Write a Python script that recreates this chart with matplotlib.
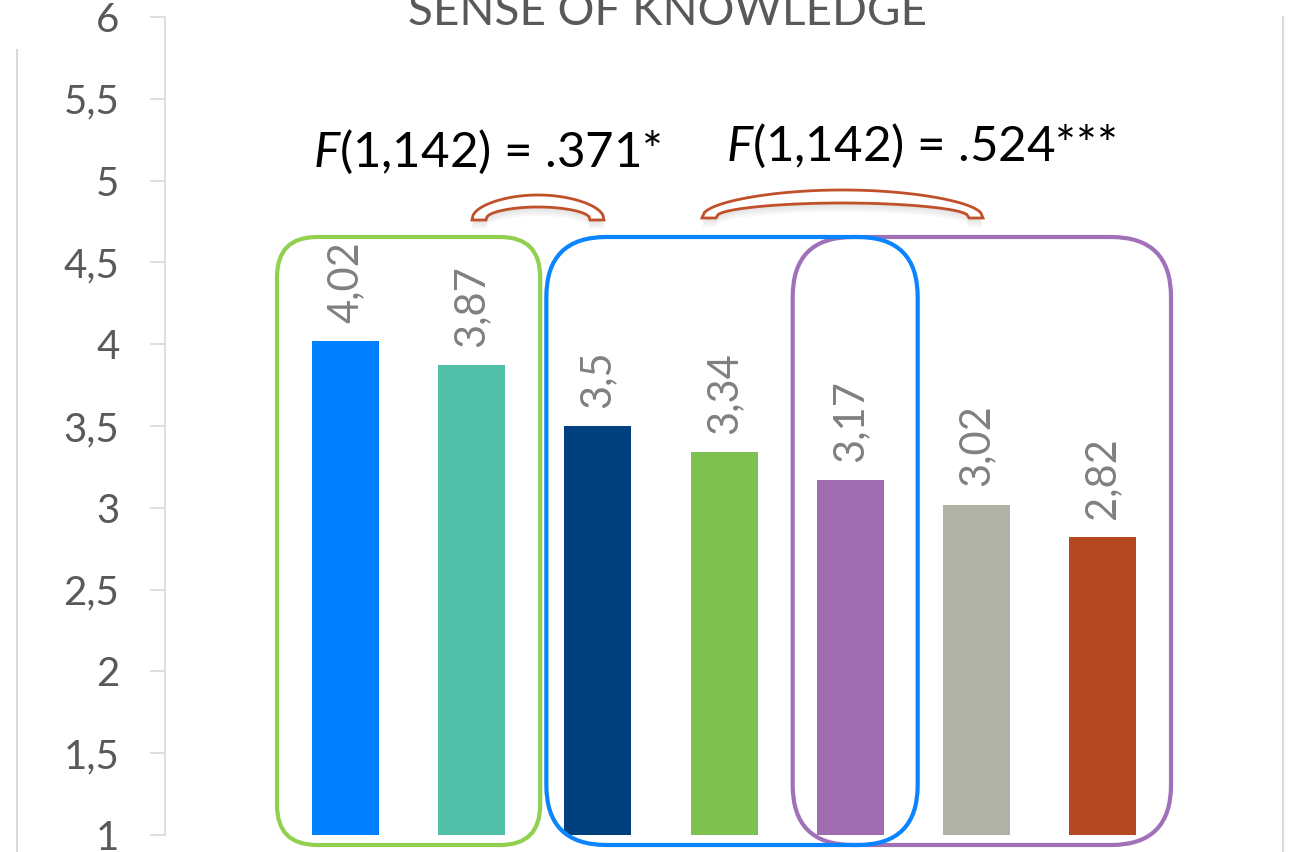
import numpy as np
import matplotlib
matplotlib.use("Agg")
import matplotlib.pyplot as plt
from matplotlib.patches import FancyBboxPatch, Polygon
from matplotlib.lines import Line2D
from matplotlib.ticker import FuncFormatter

# ---------------- data ----------------
categories = ["A", "B", "C", "D", "E", "F", "G"]
values = [4.02, 3.87, 3.50, 3.34, 3.17, 3.02, 2.82]
value_labels = ["4,02", "3,87", "3,5", "3,34", "3,17", "3,02", "2,82"]
bar_colors = ["#0080FF", "#52C0A8", "#00407F", "#7FC150", "#A06CB0", "#B0B2A5", "#B54820"]
title = "SENSE OF KNOWLEDGE"
stat_texts = [r"$\mathit{F}$(1,142) = .371*", r"$\mathit{F}$(1,142) = .524***"]
yticks = [1, 1.5, 2, 2.5, 3, 3.5, 4, 4.5, 5, 5.5, 6]

# group boxes: (first bar, last bar, colour)
groups = [(0, 1, "#92D050"), (2, 4, "#0A84FF"), (4, 6, "#A070B8")]

# ---------------- style ----------------
plt.rcParams["font.family"] = ["Lato", "DejaVu Sans"]
plt.rcParams["mathtext.fontset"] = "custom"
plt.rcParams["mathtext.it"] = "Lato:italic"
plt.rcParams["mathtext.rm"] = "Lato"

W, H = 1294, 852
fig = plt.figure(figsize=(W / 100, H / 100), dpi=100)
ax_left, ax_right, ax_top, ax_bot = 165, 1283, 17, 835
ax = fig.add_axes([ax_left / W, (H - ax_bot) / H, (ax_right - ax_left) / W, (ax_bot - ax_top) / H])

x = np.arange(len(values))
px_per_x = 126.17
first_center = 345.5
ax.set_xlim((ax_left - first_center) / px_per_x, (ax_right - first_center) / px_per_x)
ax.set_ylim(1, 6)
px_per_y = (ax_bot - ax_top) / 5.0
bar_w = 67 / px_per_x

bars = ax.bar(x, np.array(values) - 1, bottom=1, width=bar_w, color=bar_colors, zorder=3)

for xi, v, lab in zip(x, values, value_labels):
    ax.annotate(lab, (xi, v), xytext=(0, 13), textcoords="offset points",
                rotation=90, ha="center", va="bottom", fontsize=30, color="#808080", zorder=5)

# axes styling
for s in ["top", "right", "bottom"]:
    ax.spines[s].set_visible(False)
ax.spines["left"].set_color("#D9D9D9")
ax.spines["left"].set_linewidth(1.2)
ax.set_yticks(yticks)
ax.yaxis.set_major_formatter(FuncFormatter(lambda v, p: ("%g" % v).replace(".", ",")))
ax.tick_params(axis="y", direction="out", length=10.8, width=1.2, color="#D9D9D9",
               labelsize=29, labelcolor="#595959", pad=22)
ax.set_xticks([])

# group boxes (rounded rectangles)
aspect = px_per_x / px_per_y
pads_l = [35, 18, 24]
pads_r = [35, 34, 35]
radii = [40, 60, 60]
box_top = 1 + (ax_bot - 237) / px_per_y
box_bot = 1 + (ax_bot - 845) / px_per_y
for (g0, g1, col), pl, pr, r in zip(groups, pads_l, pads_r, radii):
    x0 = x[g0] - bar_w / 2 - pl / px_per_x
    x1 = x[g1] + bar_w / 2 + pr / px_per_x
    box = FancyBboxPatch((x0, box_bot), x1 - x0, box_top - box_bot,
                         boxstyle="round,pad=0,rounding_size=%f" % (r / px_per_x),
                         mutation_aspect=aspect, fill=False, edgecolor=col,
                         linewidth=3.0, clip_on=False, zorder=6 if col == "#0A84FF" else 5)
    ax.add_patch(box)

# brackets
def bracket(xa, xb, yb_px, hout_px, hin_px, e_px):
    t = np.linspace(0, 1, 120)
    yb = 1 + (ax_bot - yb_px) / px_per_y
    ho = hout_px / px_per_y
    hi = hin_px / px_per_y
    e = e_px / px_per_x
    xo = xa + (xb - xa) * t
    yo = yb + ho * np.sin(np.pi * t) ** 0.45
    xi_ = (xb - e) - ((xb - e) - (xa + e)) * t
    yi = yb + hi * np.sin(np.pi * t) ** 0.4
    pts = np.vstack([np.column_stack([xo, yo]), np.column_stack([xi_, yi])])
    # soft shadow
    for off in [9, 7, 5, 3]:
        sh = pts.copy()
        sh[:, 1] -= off / px_per_y
        ax.add_patch(Polygon(sh, closed=True, facecolor="#808080", edgecolor="none",
                             alpha=0.05, clip_on=False, zorder=6))
    ax.add_patch(Polygon(pts, closed=True, facecolor="white", edgecolor="#C0502A",
                         linewidth=2.0, clip_on=False, zorder=7))

bracket((472 - first_center) / px_per_x, (604 - first_center) / px_per_x, 220, 25, 13, 14)
bracket((702 - first_center) / px_per_x, (983 - first_center) / px_per_x, 218, 28, 15, 14)

# statistics text
ax.text((487.5 - first_center) / px_per_x, 1 + (ax_bot - 167) / px_per_y, stat_texts[0],
        ha="center", va="baseline", fontsize=35.5, color="black", zorder=8)
ax.text((921 - first_center) / px_per_x, 1 + (ax_bot - 161) / px_per_y, stat_texts[1],
        ha="center", va="baseline", fontsize=35.5, color="black", zorder=8)

# title (partly cut off at top, as in the reference)
fig.text(667 / W, (H - 25) / H, title, ha="center", va="baseline", fontsize=33, color="#595959")

# chart-area border pieces
fig.add_artist(Line2D([17 / W, 17 / W], [0, (H - 50) / H], color="#D9D9D9", linewidth=1.5))
fig.add_artist(Line2D([1283 / W, 1283 / W], [0, (H - 17) / H], color="#D9D9D9", linewidth=1.5))

fig.savefig("out.png", dpi=100, facecolor="white")
